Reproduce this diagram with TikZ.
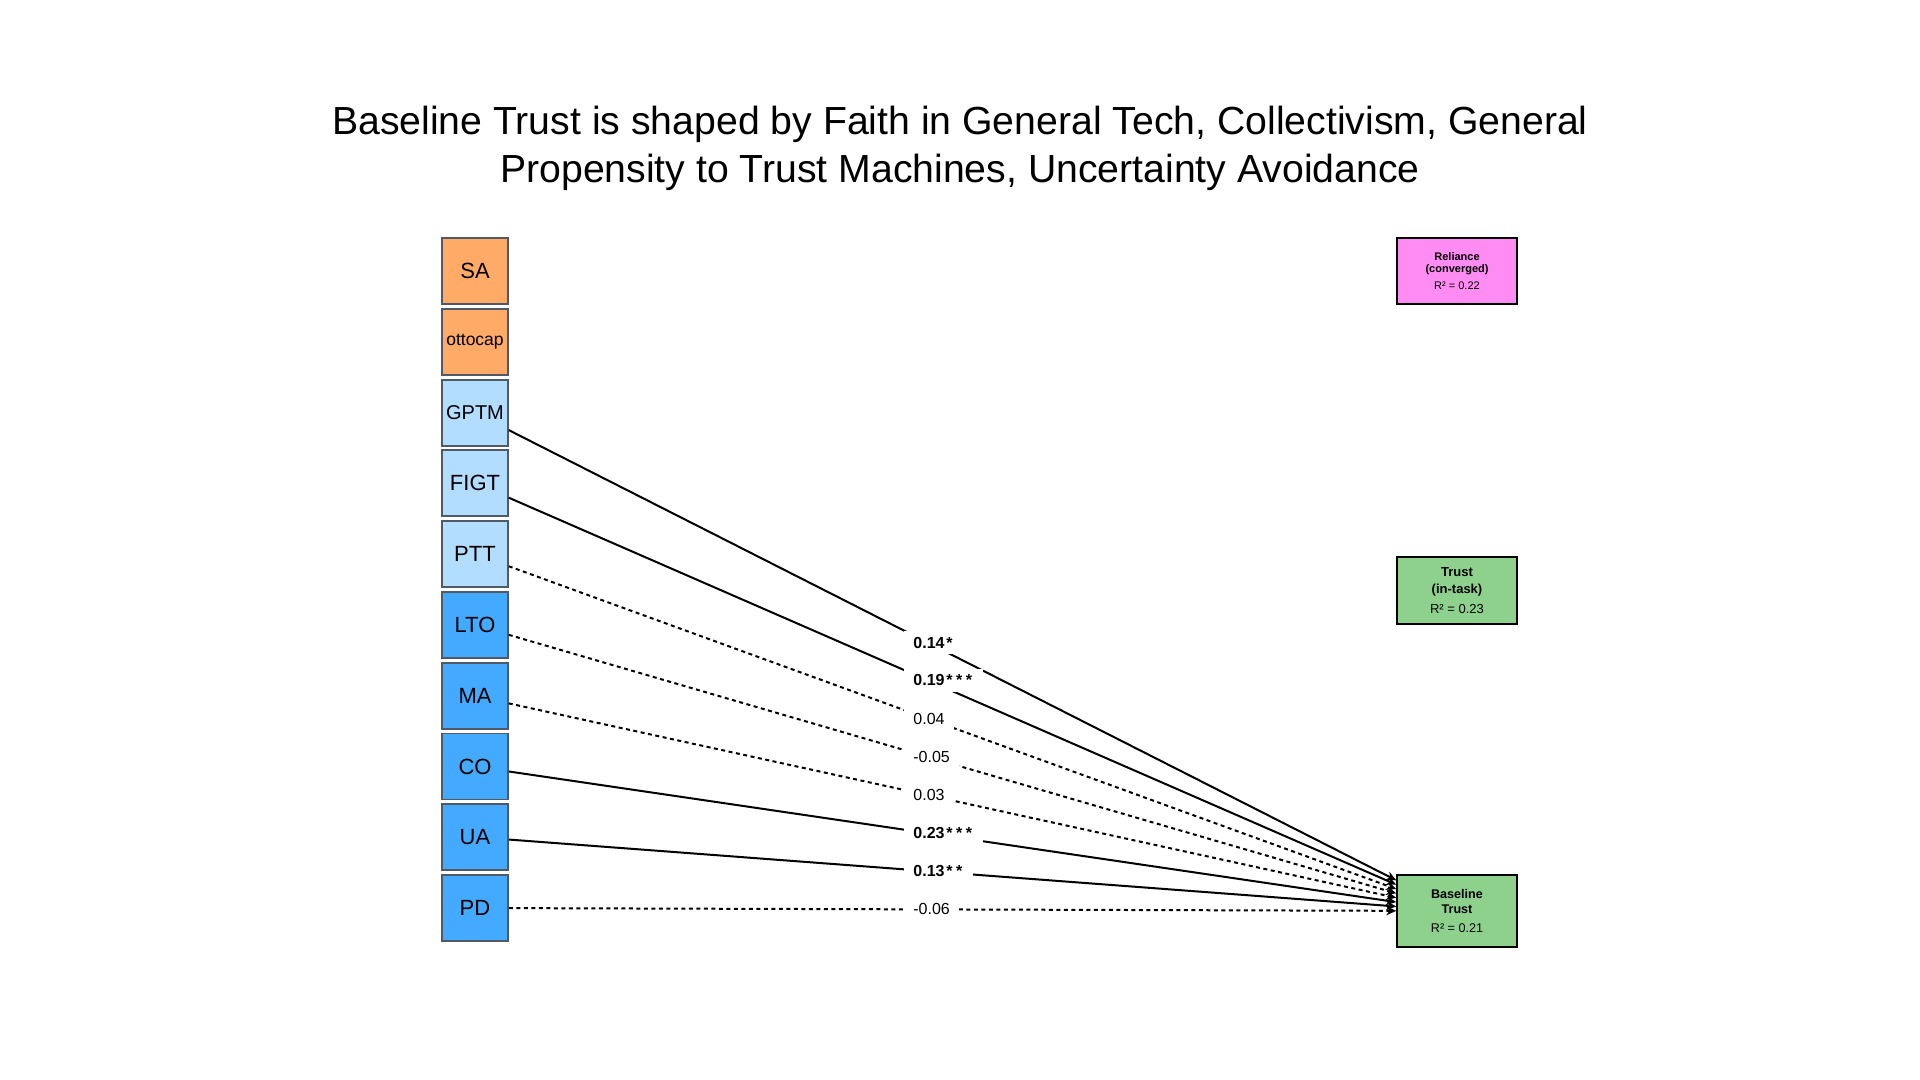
\documentclass[tikz,border=0pt]{standalone}
\usepackage{fontspec}
\setmainfont{Liberation Sans}
\usetikzlibrary{arrows.meta}
\definecolor{orng}{HTML}{FFAA66}
\definecolor{lblue}{HTML}{B3DDFF}
\definecolor{dblue}{HTML}{44AAFF}
\definecolor{pinkc}{HTML}{FF8CF2}
\definecolor{greenc}{HTML}{8DD18D}
\definecolor{bordc}{HTML}{4F5A66}
\newcommand{\sgst}{\kern0.9pt*\kern0.9pt}
\begin{document}
\begin{tikzpicture}[x=0.5pt,y=-0.5pt,
 var/.style={draw=bordc, line width=0.75pt, minimum width=33pt, minimum height=33pt, inner sep=0pt, font=\fontsize{11}{13}\selectfont},
 outc/.style={draw=black, line width=0.75pt, minimum width=60pt, inner sep=0pt, align=center},
 sig/.style={line width=1pt, -{Stealth[length=5pt,width=4.5pt]}},
 ns/.style={sig, dash pattern=on 2pt off 1.75pt},
 lab/.style={fill=white, anchor=west, xshift=-12pt, inner xsep=4.5pt, inner ysep=3pt, font=\fontsize{8}{9.6}\selectfont},
 blab/.style={lab, font=\fontsize{8}{9.6}\selectfont\bfseries}
]
\useasboundingbox (0,0) rectangle (1920,1080);
\node[font=\fontsize{19.6}{23.9}\selectfont, align=center, anchor=north, inner sep=0pt] (title) at (960,106)
  {Baseline Trust is shaped by Faith in General Tech, Collectivism, General\\Propensity to Trust Machines, Uncertainty Avoidance};

\node[var, fill=orng] (SA) at (475,271) {SA};
\node[var, fill=orng, font=\fontsize{8.75}{10}\selectfont] (OC) at (475,342) {ottocap};
\node[var, fill=lblue, font=\fontsize{10}{12}\selectfont] (GPTM) at (475,413) {GPTM};
\node[var, fill=lblue] (FIGT) at (475,483) {FIGT};
\node[var, fill=lblue] (PTT) at (475,554) {PTT};
\node[var, fill=dblue] (LTO) at (475,625) {LTO};
\node[var, fill=dblue] (MA) at (475,696) {MA};
\node[var, fill=dblue] (CO) at (475,766.5) {CO};
\node[var, fill=dblue] (UA) at (475,837) {UA};
\node[var, fill=dblue] (PD) at (475,908) {PD};

\node[outc, fill=pinkc, minimum height=33pt, font=\fontsize{5.5}{6.1}\selectfont] (REL) at (1457,271)
  {\textbf{Reliance}\\\textbf{(converged)}\\[2.5pt]R² = 0.22};
\node[outc, fill=greenc, minimum height=33.5pt, font=\fontsize{6.5}{8.5}\selectfont] (TR) at (1457,590.5)
  {\textbf{Trust}\\\textbf{(in-task)}\\[1.5pt]R² = 0.23};
\node[outc, fill=greenc, minimum height=36pt, font=\fontsize{6.3}{7.5}\selectfont] (BT) at (1457,911)
  {\textbf{Baseline}\\\textbf{Trust}\\[2pt]R² = 0.21};

\draw[sig] (GPTM) -- coordinate[pos=0.4724] (l1) (BT);
\draw[sig] (FIGT) -- coordinate[pos=0.4724] (l2) (BT);
\draw[ns] (PTT) -- coordinate[pos=0.4724] (l3) (BT);
\draw[ns] (LTO) -- coordinate[pos=0.4724] (l4) (BT);
\draw[ns] (MA) -- coordinate[pos=0.4724] (l5) (BT);
\draw[sig] (CO) -- coordinate[pos=0.4724] (l6) (BT);
\draw[sig] (UA) -- coordinate[pos=0.4724] (l7) (BT);
\draw[ns] (PD) -- coordinate[pos=0.4724] (l8) (BT);

\node[blab] (t1) at (l1) {0.14\sgst};
\node[blab] (t2) at (l2) {0.19\sgst\sgst\sgst};
\node[lab] (t3) at (l3) {0.04};
\node[lab] (t4) at (l4) {-0.05};
\node[lab] (t5) at (l5) {0.03};
\node[blab] (t6) at (l6) {0.23\sgst\sgst\sgst};
\node[blab] (t7) at (l7) {0.13\sgst\sgst};
\node[lab] (t8) at (l8) {-0.06};
\end{tikzpicture}
\end{document}
